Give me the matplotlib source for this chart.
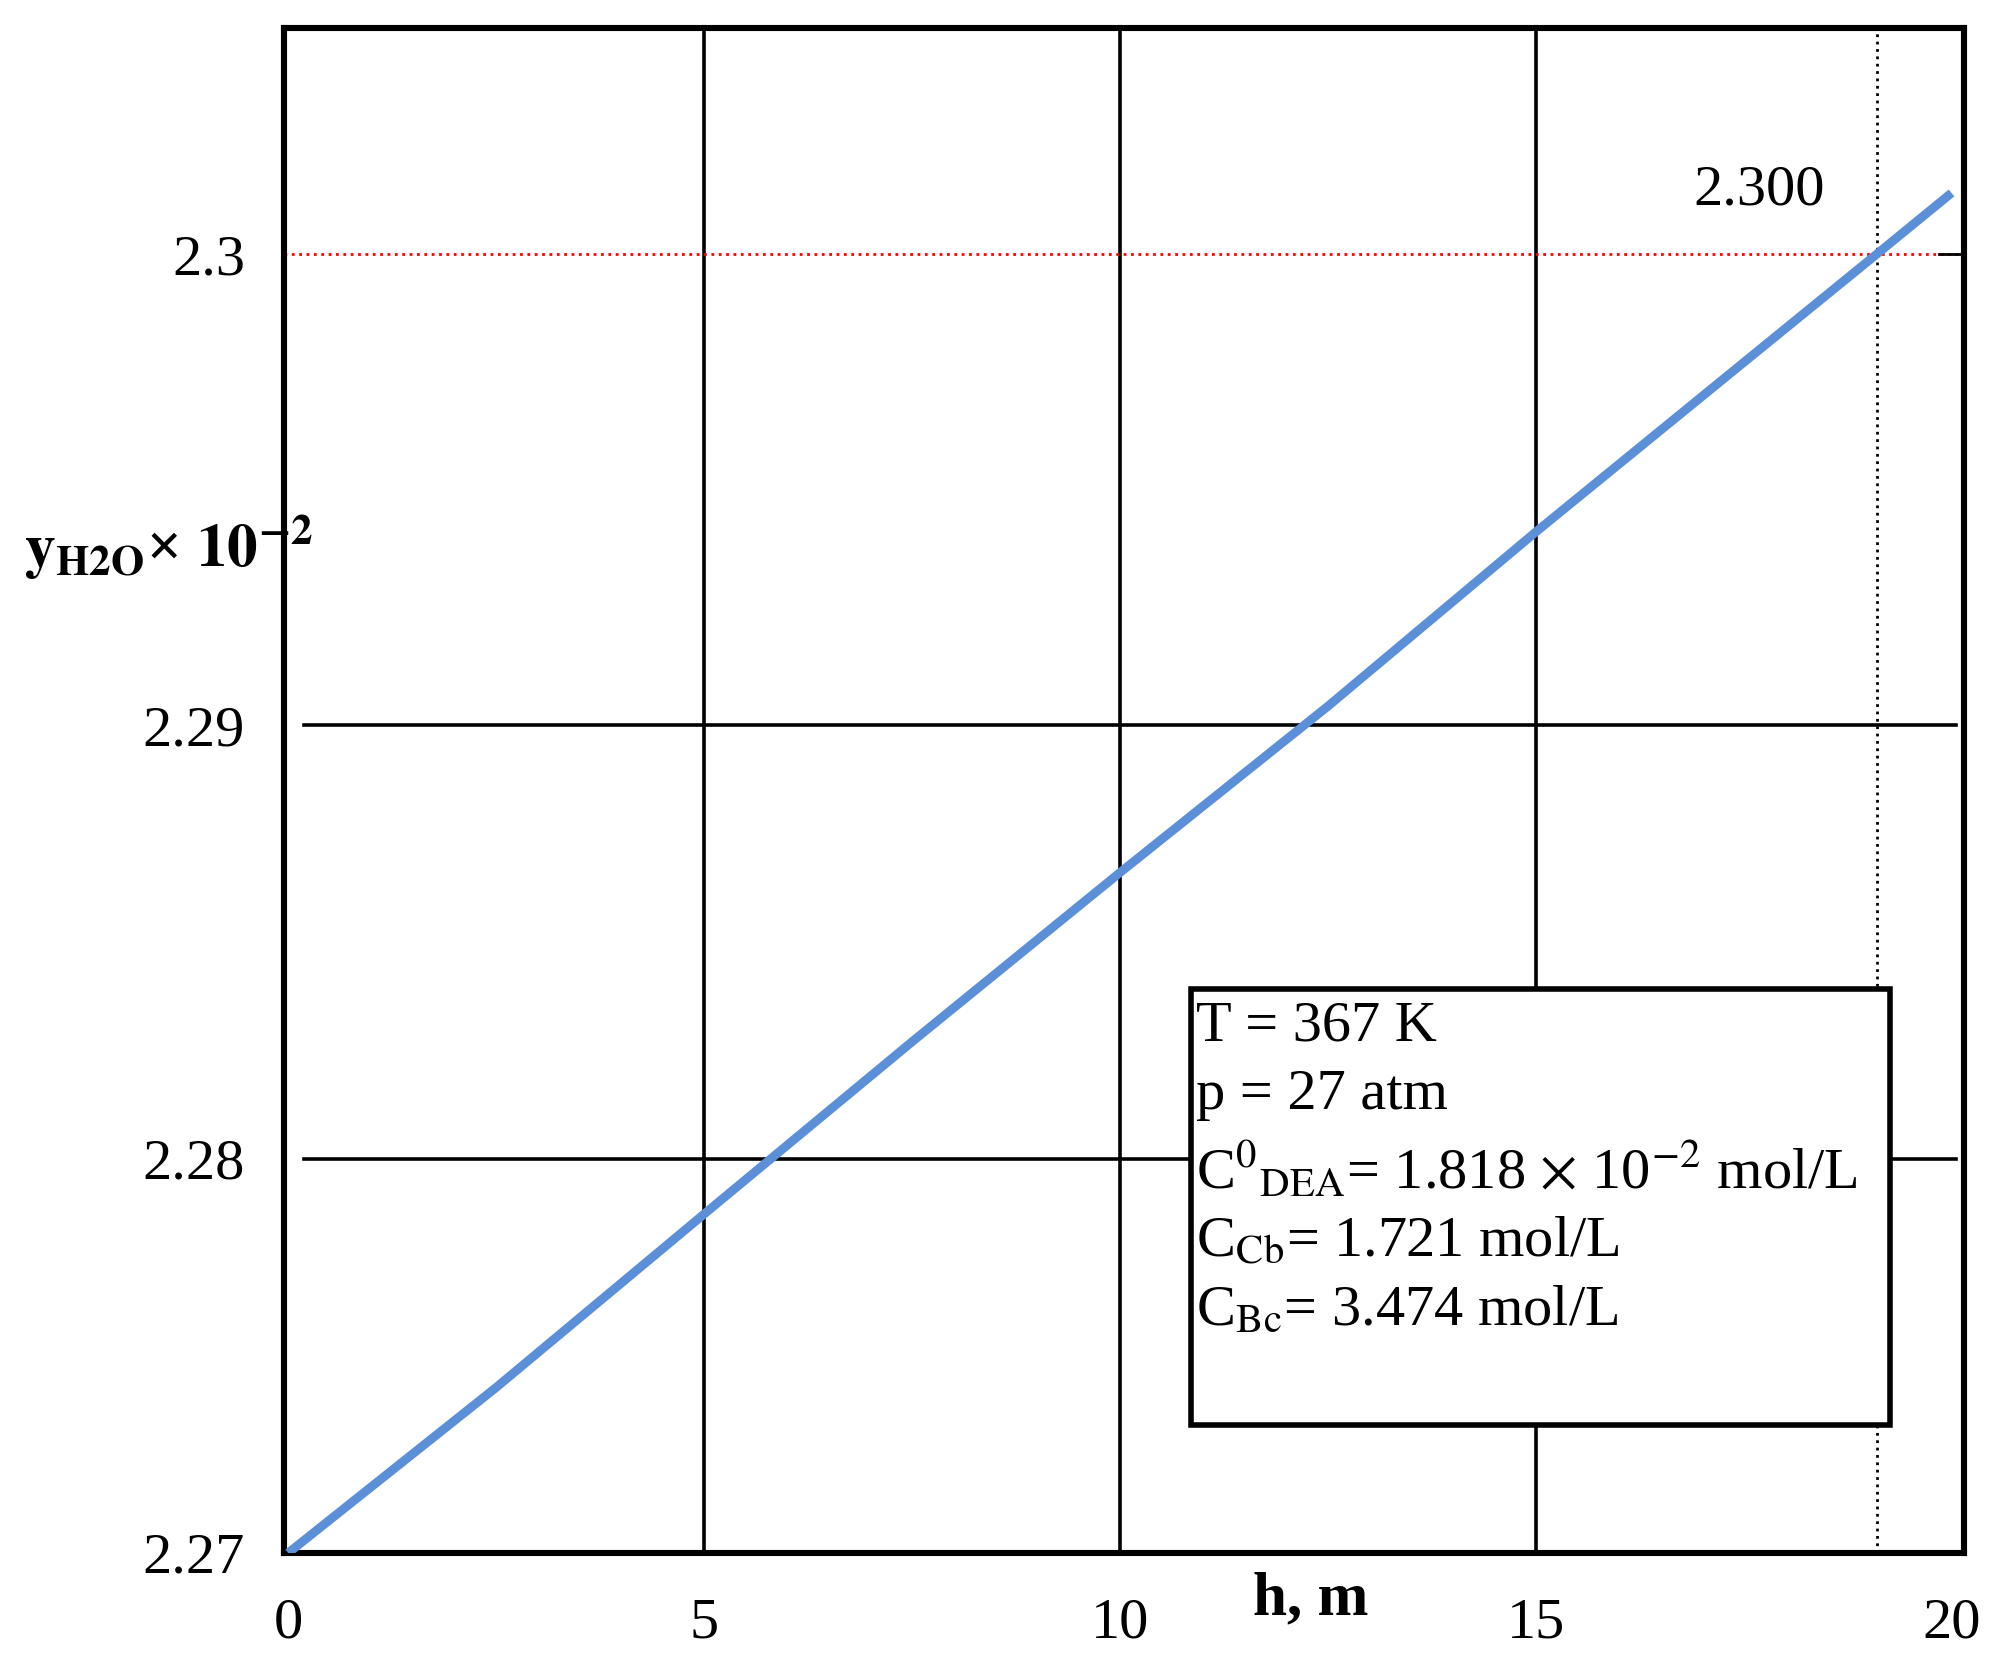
import numpy as np
import matplotlib
matplotlib.use("Agg")
import matplotlib.pyplot as plt
from matplotlib.patches import Rectangle

h = [0, 2.5, 5, 7.5, 10, 12.5, 15, 17.5, 19.1, 20]
y = [2.27, 2.2742, 2.2786, 2.2827, 2.2866, 2.2904, 2.2941, 2.2977, 2.300, 2.3013]
yticks = [2.27, 2.28, 2.29, 2.30]
ytick_labels = ["2.27", "2.28", "2.29", "2.3"]
xticks = [0, 5, 10, 15, 20]

dat = np.array([2.26, 2.27, 2.28, 2.29, 2.30, 2.31])
pos = np.array([-307, 0, 307, 645, 1012, 1379])
fwd = lambda v: np.interp(v, dat, pos)
inv = lambda p: np.interp(p, pos, dat)

plt.rcParams['font.family'] = ['Liberation Serif', 'DejaVu Serif']
fig = plt.figure(figsize=(10, 8.265), dpi=200)
ax = fig.add_axes([0.142, 0.0605, 0.840, 0.9225])
ax.set_yscale('function', functions=(fwd, inv))
ax.set_xlim(-0.05, 20.15)
ax.set_ylim(2.27, 2.3048)

for xv in [5, 10, 15]:
    ax.axvline(xv, color='black', lw=1.3, zorder=1)
for yv in [2.28, 2.29]:
    ax.axhline(yv, xmin=0.012, xmax=0.995, color='black', lw=1.3, zorder=1)
ax.axhline(2.30, color='red', lw=1.0, ls=':', zorder=1)
ax.axvline(19.1, color='black', lw=1.0, ls=':', zorder=1)
ax.plot([19.85, 20.15], [2.30, 2.30], color='black', lw=1.0)

ax.add_patch(Rectangle((0.540, 0.084), 0.416, 0.286, transform=ax.transAxes,
                       fc='white', ec='black', lw=2.0, zorder=2))
ax.plot(h, y, color='#5b8fd8', lw=3.2, solid_capstyle='butt', zorder=3)

ax.set_xticks(xticks)
ax.set_xticklabels([str(v) for v in xticks], fontsize=21)
ax.set_yticks(yticks)
ax.set_yticklabels(ytick_labels, fontsize=21)
ax.tick_params(axis='x', length=0, pad=16)
ax.tick_params(axis='y', length=0, pad=14)
for s in ax.spines.values():
    s.set_linewidth(2.2)

ax.text(12.3, -0.012, "h, m", transform=ax.get_xaxis_transform(), fontsize=22,
        fontweight='bold', ha='center', va='top')
fig.text(0.012, 0.668, r"$\mathbf{y}_{\mathbf{H2O}}$" + "\u00d7 " + r"$\mathbf{10^{-2}}$",
         fontsize=22, fontweight='bold', ha='left', va='center',
         math_fontfamily='stix')
ax.text(16.9, 2.3008, "2.300", fontsize=21, ha='left', va='bottom')

txt = ("T = 367 K\np = 27 atm\n"
       r"C$^{0}$$_{\rm DEA}$= 1.818 $\times$ 10$^{-2}$ mol/L" "\n"
       r"C$_{\rm Cb}$= 1.721 mol/L" "\n"
       r"C$_{\rm Bc}$= 3.474 mol/L")
ax.text(0.543, 0.362, txt, transform=ax.transAxes, fontsize=21, ha='left', va='top',
        math_fontfamily='stix', linespacing=1.4, zorder=4)
fig.savefig("out.png")
